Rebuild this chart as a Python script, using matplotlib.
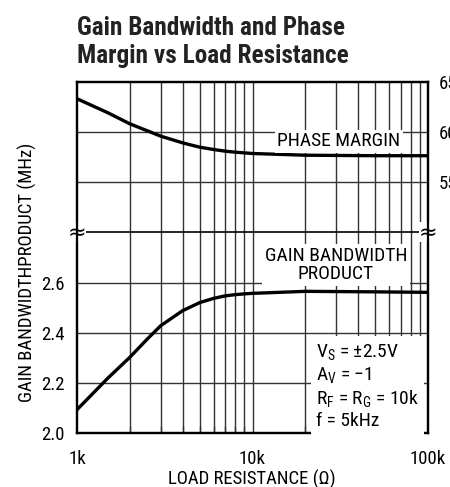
import matplotlib
matplotlib.use("Agg")
import matplotlib.pyplot as plt
from matplotlib import font_manager as fm

# ---------------- data ----------------
load_k = [1, 1.5, 2, 2.5, 3, 4, 5, 6, 7, 8, 9, 10, 20, 50, 100]
gbw = [2.093, 2.219, 2.302, 2.373, 2.428, 2.488, 2.52, 2.537, 2.547, 2.552,
       2.555, 2.557, 2.565, 2.563, 2.561]
phase_k = [1, 1.5, 2, 3, 4, 5, 6, 7, 8, 10, 20, 50, 100]
phase = [63.33, 61.93, 60.83, 59.6, 58.93, 58.5, 58.27, 58.1, 58.0, 57.87,
         57.7, 57.65, 57.65]
x_ticks = [1, 10, 100]
x_ticklabels = ["1k", "10k", "100k"]
gbw_ticks = [2.0, 2.2, 2.4, 2.6]
gbw_grid = [2.2, 2.4, 2.6]
phase_ticks = [55, 60, 65]
phase_grid = [55, 60]
break_gbw = 2.8

# pick a condensed family if one is installed
names = sorted({f.name for f in fm.fontManager.ttflist})
cond = None
for pref in ["Roboto Condensed", "Liberation Sans Narrow", "Noto Sans Condensed",
             "Open Sans Condensed"]:
    if pref in names:
        cond = pref
        break
if cond is None:
    for n in names:
        if "Condensed" in n or "Narrow" in n:
            cond = n
            break
if cond is None:
    cond = "DejaVu Sans"
FONT = [cond, "DejaVu Sans"]
plt.rcParams["font.family"] = FONT
plt.rcParams["mathtext.fontset"] = "custom"
plt.rcParams["mathtext.rm"] = cond
plt.rcParams["mathtext.it"] = cond
plt.rcParams["mathtext.bf"] = cond + ":bold"

W, H = 450, 487
fig = plt.figure(figsize=(W / 100, H / 100), dpi=100)
L, R, T, B = 77, 428, 82, 433
ax = fig.add_axes([L / W, 1 - B / H, (R - L) / W, (B - T) / H])
ax2 = ax.twinx()

ax.set_xscale("log")
ax.set_xlim(1, 100)
ax.set_ylim(2.0, 3.4)
ax2.set_ylim(30, 65)

gc = "#333333"
glw = 1.0
for dec in [1, 10]:
    for m in range(2, 10):
        ax.axvline(dec * m, color=gc, lw=glw, zorder=1)
ax.axvline(10, color=gc, lw=glw, zorder=1)
for g in gbw_grid:
    ax.axhline(g, color=gc, lw=glw, zorder=1)
ax.axhline(break_gbw, color="black", lw=1.2, zorder=1)
for g in phase_grid:
    ax2.axhline(g, color=gc, lw=glw, zorder=1)

ax.plot(load_k, gbw, color="black", lw=2.4, zorder=4)
ax2.plot(phase_k, phase, color="black", lw=2.4, zorder=4)

ax2.set_zorder(ax.get_zorder() + 1)
ax2.patch.set_visible(False)

ax.set_xticks(x_ticks)
ax.set_xticklabels(x_ticklabels)
ax.set_yticks(gbw_ticks)
ax.set_yticklabels([f"{v:.1f}" for v in gbw_ticks])
ax2.set_yticks(phase_ticks)
ax2.set_yticklabels([str(v) for v in phase_ticks])
ax.tick_params(axis="x", which="major", length=0, pad=12, labelsize=13.5)
ax.tick_params(axis="x", which="minor", direction="in", length=5, width=1,
               color=gc, labelbottom=False)
ax.tick_params(axis="y", length=0, pad=9, labelsize=13.5)
ax2.tick_params(axis="y", length=0, pad=8, labelsize=13.5)
for a in (ax, ax2):
    for s in a.spines.values():
        s.set_linewidth(1.6)
        s.set_zorder(5)

fig.text(27 / W, 1 - 272 / H, "GAIN BANDWIDTHPRODUCT (MHz)", rotation=90,
         ha="center", va="center", fontsize=13.5)
fig.text(252 / W, 1 - 479 / H, "LOAD RESISTANCE (\u03a9)", ha="center",
         va="center", fontsize=13.5)
fig.text(77 / W, 1 - 35 / H, "Gain Bandwidth and Phase", ha="left",
         va="baseline", fontsize=18.2, fontweight="bold", color="#222222")
fig.text(77 / W, 1 - 63 / H, "Margin vs Load Resistance", ha="left",
         va="baseline", fontsize=18.2, fontweight="bold", color="#222222")

box = dict(boxstyle="square,pad=0.15", fc="white", ec="none")
fig.text(339 / W, 1 - 141.5 / H, "PHASE MARGIN", ha="center", va="center",
         fontsize=14, bbox=box, zorder=3)
fig.text(336 / W, 1 - 265 / H, "GAIN BANDWIDTH\nPRODUCT", ha="center",
         va="center", fontsize=14, linespacing=1.05, bbox=box, zorder=3)
fig.text(316 / W, 1 - 386 / H,
         "V$_\\mathrm{S}$ = \u00b12.5V\nA$_\\mathrm{V}$ = \u22121\n"
         "R$_\\mathrm{F}$ = R$_\\mathrm{G}$ = 10k\nf = 5kHz",
         ha="left", va="center", fontsize=14, linespacing=1.2,
         bbox=dict(boxstyle="square,pad=0.25", fc="white", ec="none"), zorder=3)

for xf in (0.0, 1.0):
    ax.text(xf, (break_gbw - 2.0) / 1.4, "\u2248", transform=ax.transAxes,
            ha="center", va="center", fontsize=16, family="DejaVu Sans",
            zorder=6, clip_on=False,
            bbox=dict(boxstyle="square,pad=0.0", fc="white", ec="none"))

fig.savefig("out.png", dpi=100)
